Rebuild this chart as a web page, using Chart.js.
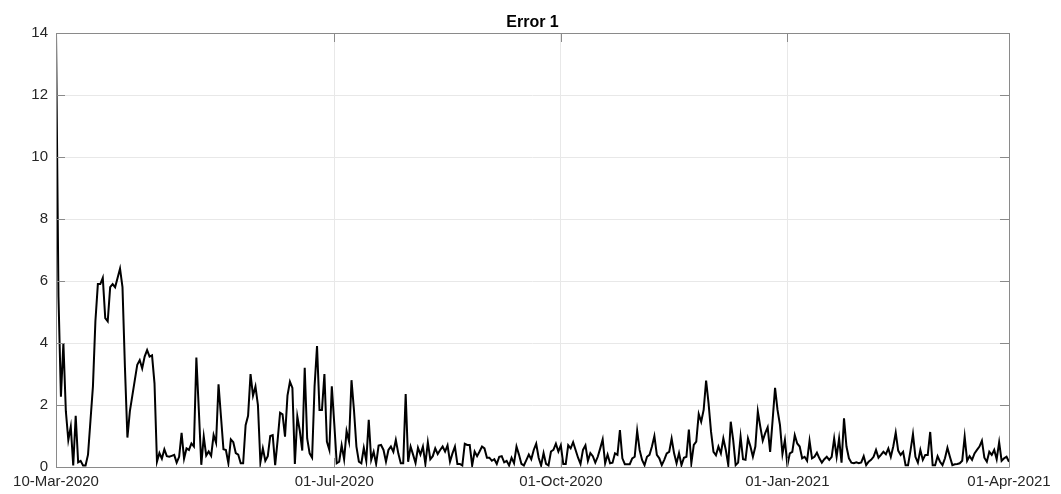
<!DOCTYPE html>
<html>
<head>
<meta charset="utf-8">
<title>Error 1</title>
<script src="https://cdn.jsdelivr.net/npm/chart.js@4"></script>
<style>
  html, body { margin: 0; padding: 0; background: #fff; }
  #wrap { width: 1061px; height: 494px; }
</style>
</head>
<body>
<div id="wrap"><canvas id="error-chart" width="1061" height="494"></canvas></div>
<script>
// daily values, one per day starting 10-Mar-2020
const startDate = '2020-03-10';
const errorValues = [
  14.0, 5.5, 2.27, 4.0, 1.8, 0.87, 1.3, 0.05, 1.65, 0.15, 0.2, 0.05, 0.05, 0.4, 1.5, 2.6, 4.7, 5.9, 5.9, 6.1,
  4.8, 4.7, 5.8, 5.9, 5.8, 6.1, 6.4, 5.8, 3.2, 0.95, 1.8, 2.3, 2.8, 3.3,
  3.45, 3.18, 3.56, 3.77, 3.56, 3.6, 2.7, 0.17, 0.45, 0.27, 0.57, 0.35, 0.33, 0.36, 0.39, 0.14, 0.33, 1.1, 0.27, 0.6,
  0.55, 0.76, 0.66, 3.53, 1.84, 0.07, 0.98, 0.37, 0.5, 0.36, 1.03, 0.78, 2.67, 1.62, 0.57, 0.55, 0.12, 0.89, 0.8,
  0.45, 0.4, 0.12, 0.12, 1.35, 1.65, 3.0, 2.3, 2.6, 2.0, 0.15, 0.6, 0.2, 0.35, 1.0, 1.03, 0.06, 0.87, 1.75, 1.7,
  0.98, 2.3, 2.75, 2.55, 0.1, 1.63, 1.17, 0.53, 3.2, 0.92, 0.44, 0.3, 2.6, 3.9, 1.84, 1.84, 3.0,
  0.82, 0.55, 2.6, 1.4, 0.12, 0.17, 0.7, 0.25, 1.16, 0.82, 2.8, 1.84, 0.66, 0.17, 0.12, 0.62, 0.2, 1.52, 0.23, 0.49,
  0.1, 0.69, 0.71, 0.55, 0.17, 0.55, 0.66, 0.49, 0.87, 0.44, 0.12, 0.12, 2.35, 0.17, 0.66, 0.4,
  0.13, 0.62, 0.4, 0.66, 0.1, 0.8, 0.25, 0.35, 0.6, 0.42, 0.55, 0.66, 0.5, 0.7, 0.17, 0.44, 0.66, 0.1, 0.1, 0.05,
  0.75, 0.71, 0.71, 0.05, 0.5, 0.35, 0.5, 0.66, 0.6, 0.3, 0.3, 0.2, 0.25, 0.1, 0.33, 0.35, 0.15,
  0.2, 0.05, 0.3, 0.12, 0.66, 0.4, 0.1, 0.05, 0.22, 0.4, 0.25, 0.55, 0.75, 0.3, 0.05, 0.45, 0.1, 0.05, 0.5, 0.55,
  0.75, 0.5, 0.7, 0.1, 0.1, 0.7, 0.6, 0.8, 0.55, 0.3, 0.1, 0.55, 0.7, 0.2,
  0.45, 0.35, 0.14, 0.33, 0.6, 0.89, 0.12, 0.4, 0.12, 0.14, 0.44, 0.39, 1.19, 0.28, 0.09, 0.09, 0.09, 0.28, 0.33, 1.17,
  0.55, 0.23, 0.06, 0.33, 0.39, 0.66, 1.0, 0.39, 0.28, 0.06, 0.23, 0.44, 0.49, 0.92, 0.44, 0.12, 0.45, 0.06, 0.3,
  0.33, 1.21, 0.12, 0.71, 0.82, 1.71, 1.46, 1.84, 2.79, 2.05, 1.14, 0.49, 0.38, 0.66, 0.44, 0.92, 0.55, 0.06, 1.46, 0.87,
  0.06, 0.14, 0.98, 0.25, 0.23, 0.92, 0.66, 0.33, 0.66, 1.79, 1.3, 0.85, 1.09, 1.28, 0.49, 1.5, 2.55,
  1.84, 1.35, 0.42, 0.87, 0.06, 0.44, 0.49, 1.03, 0.76, 0.66, 0.28, 0.33, 0.2, 0.85, 0.28, 0.33, 0.46, 0.28, 0.14, 0.25,
  0.33, 0.23, 0.33, 0.92, 0.33, 0.92, 0.14, 1.57, 0.66, 0.28, 0.14, 0.12, 0.15,
  0.12, 0.15, 0.35, 0.06, 0.17, 0.23, 0.33, 0.55, 0.3, 0.39, 0.49, 0.41, 0.6, 0.33, 0.66, 1.11, 0.53, 0.39, 0.49, 0.06,
  0.06, 0.53, 1.06, 0.33, 0.14, 0.55, 0.23, 0.39, 0.39, 1.13, 0.06, 0.06, 0.35, 0.17, 0.06, 0.28, 0.62, 0.33, 0.06, 0.09,
  0.1, 0.12, 0.2, 0.98, 0.2, 0.35, 0.23, 0.44, 0.55, 0.66, 0.85, 0.3, 0.17, 0.49, 0.39, 0.55, 0.25, 0.8, 0.2, 0.28,
  0.33, 0.17
];
const tickDates = ['2020-03-10', '2020-07-01', '2020-10-01', '2021-01-01', '2021-04-01'];
const tickLabels = ['10-Mar-2020', '01-Jul-2020', '01-Oct-2020', '01-Jan-2021', '01-Apr-2021'];
const yTicks = [0, 2, 4, 6, 8, 10, 12, 14];
const titleText = 'Error 1';

const dayOf = d => Math.round((Date.parse(d) - Date.parse(startDate)) / 864e5);
const tickDays = tickDates.map(dayOf);

const axisColor = '#8a8a8a';
const gridColor = '#e8e8e8';
const fontFamily = '"Liberation Sans", Arial, sans-serif';

// box round the plot, with MATLAB style ticks pointing inward, and the title over the plot area
const boxPlugin = {
    id: 'box',
    afterDatasetsDraw(chart) {
        const {ctx, chartArea: a, scales: {x, y}} = chart;
        const len = 9;
        ctx.save();
        ctx.strokeStyle = axisColor;
        ctx.lineWidth = 1;
        ctx.beginPath();
        ctx.rect(Math.round(a.left) + 0.5, Math.round(a.top) + 0.5,
                 Math.round(a.right - a.left), Math.round(a.bottom - a.top));
        y.ticks.forEach(t => {
            const py = Math.round(y.getPixelForValue(t.value)) + 0.5;
            ctx.moveTo(a.left, py); ctx.lineTo(a.left + len, py);
            ctx.moveTo(a.right, py); ctx.lineTo(a.right - len, py);
        });
        x.ticks.forEach(t => {
            const px = Math.round(x.getPixelForValue(t.value)) + 0.5;
            ctx.moveTo(px, a.bottom); ctx.lineTo(px, a.bottom - len);
            ctx.moveTo(px, a.top); ctx.lineTo(px, a.top + len);
        });
        ctx.stroke();

        ctx.fillStyle = '#000000';
        ctx.font = 'bold 16px ' + fontFamily;
        ctx.textAlign = 'center';
        ctx.textBaseline = 'middle';
        ctx.fillText(titleText, (a.left + a.right) / 2, a.top - 10);
        ctx.restore();
    }
};

let errorChart = new Chart(document.getElementById('error-chart').getContext('2d'), {
    type: 'line',
    data: {
        datasets: [{
            label: titleText,
            data: errorValues.map((v, i) => ({x: i, y: v})),
            borderColor: '#000000',
            borderWidth: 2,
            pointRadius: 0,
            tension: 0,
            fill: false
        }]
    },
    options: {
        responsive: false,
        animation: false,
        layout: {
            padding: {left: 0, right: 52, top: 33, bottom: 0}
        },
        plugins: {
            legend: {display: false},
            tooltip: {enabled: false},
            title: {display: false}
        },
        scales: {
            x: {
                type: 'linear',
                min: tickDays[0],
                max: tickDays[tickDays.length - 1],
                afterBuildTicks: scale => {
                    scale.ticks = tickDays.map(v => ({value: v}));
                },
                afterFit: scale => { scale.height = 27; },
                ticks: {
                    autoSkip: false,
                    maxRotation: 0,
                    padding: 6,
                    color: '#262626',
                    font: {family: fontFamily, size: 15},
                    callback: v => tickLabels[tickDays.indexOf(v)]
                },
                grid: {color: gridColor, drawTicks: false},
                border: {display: false}
            },
            y: {
                min: 0,
                max: 14,
                afterBuildTicks: scale => {
                    scale.ticks = yTicks.map(v => ({value: v}));
                },
                afterFit: scale => { scale.width = 56; },
                ticks: {
                    padding: 8,
                    color: '#262626',
                    font: {family: fontFamily, size: 15}
                },
                grid: {color: gridColor, drawTicks: false},
                border: {display: false}
            }
        }
    },
    plugins: [boxPlugin]
});
</script>
</body>
</html>
